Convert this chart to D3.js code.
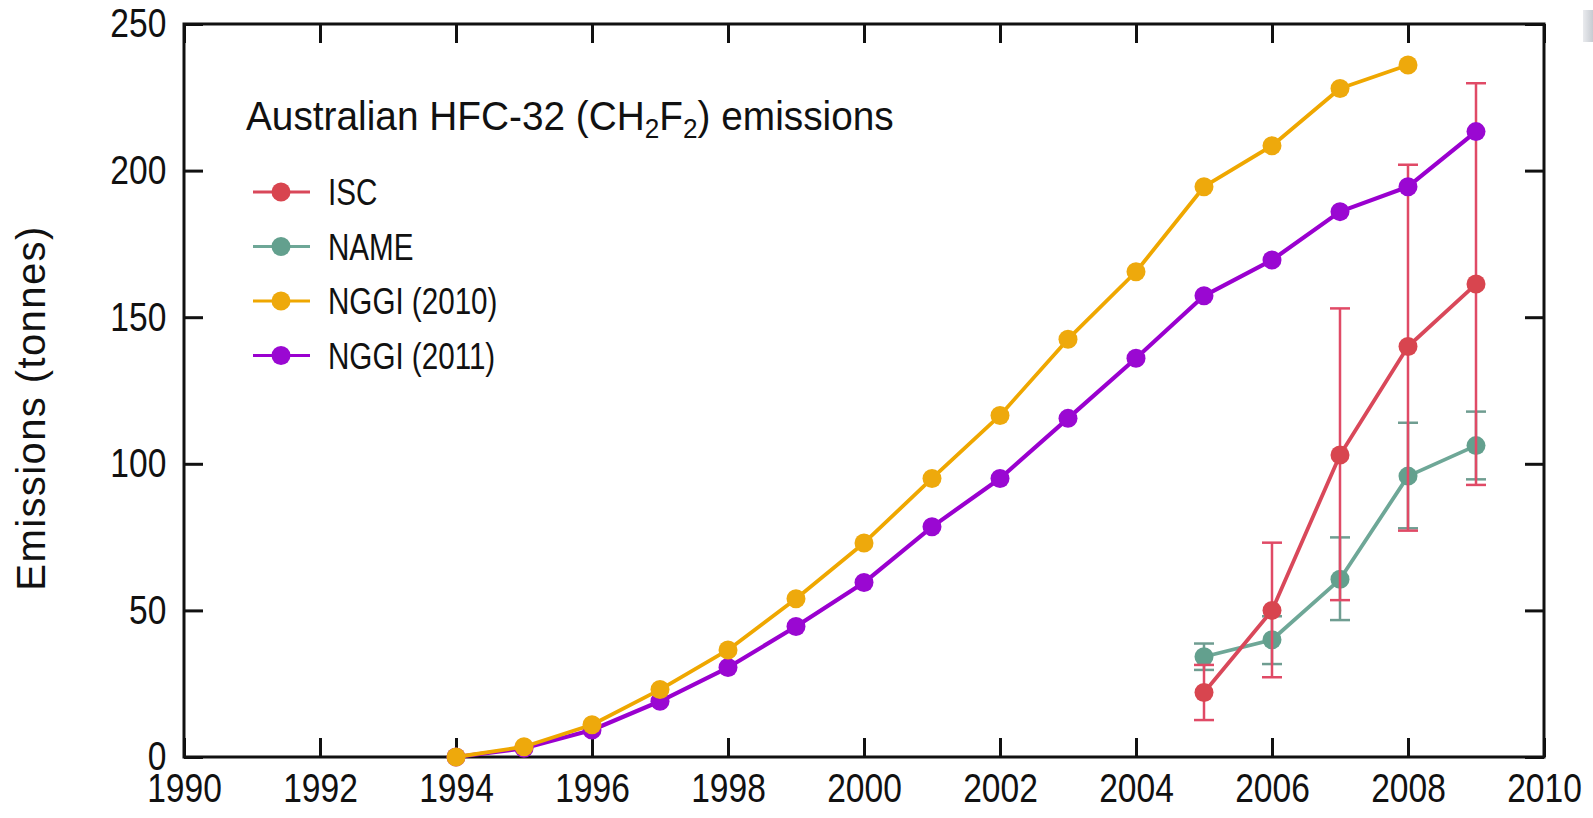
<!DOCTYPE html>
<html>
<head>
<meta charset="utf-8">
<script src="https://cdn.jsdelivr.net/npm/d3@7"></script>
<style>
  html, body { margin: 0; padding: 0; background: #ffffff; }
  svg { display: block; }
  text { font-family: "Liberation Sans", Arial, Helvetica, sans-serif; fill: #111; }
</style>
</head>
<body>
<svg id="chart" width="1593" height="818"></svg>
<script>
// Tick values
const xTicks = [1990, 1992, 1994, 1996, 1998, 2000, 2002, 2004, 2006, 2008, 2010];
const yTicks = [0, 50, 100, 150, 200, 250];

// NGGI (2010) inventory
const nggi2010Years  = [1994, 1995, 1996, 1997, 1998, 1999, 2000, 2001, 2002, 2003, 2004, 2005, 2006, 2007, 2008];
const nggi2010Values = [0, 3.5, 11, 23, 36.5, 54, 73, 95, 116.5, 142.5, 165.5, 194.5, 208.5, 228, 236];

// NGGI (2011) inventory
const nggi2011Years  = [1994, 1995, 1996, 1997, 1998, 1999, 2000, 2001, 2002, 2003, 2004, 2005, 2006, 2007, 2008, 2009];
const nggi2011Values = [0, 3, 9.2, 19, 30.5, 44.5, 59.5, 78.5, 95, 115.5, 136, 157.3, 169.5, 186, 194.5, 213.3];

// ISC estimates with uncertainty ranges
const iscYears  = [2005, 2006, 2007, 2008, 2009];
const iscValues = [22, 50, 103, 140, 161.3];
const iscLower  = [12.6, 27.2, 53.5, 77.2, 92.8];
const iscUpper  = [31.4, 73.1, 153, 202, 229.8];

// NAME estimates with uncertainty ranges
const nameYears  = [2005, 2006, 2007, 2008, 2009];
const nameValues = [34.2, 40, 60.6, 95.8, 106.2];
const nameLower  = [29.7, 31.7, 46.7, 78, 94.7];
const nameUpper  = [38.7, 48, 74.9, 114, 117.8];

const legendLabels = ["ISC", "NAME", "NGGI (2010)", "NGGI (2011)"];

const colors = {
  isc:  { line: "#d9485a", dot: "#d8454f", bar: "#e04a66" },
  name: { line: "#6ea797", dot: "#63a08e", bar: "#6f9d91" },
  n10:  { line: "#efa700", dot: "#eea90c" },
  n11:  { line: "#9a00cf", dot: "#9a08d2" }
};

const svg = d3.select("#chart");
const plot = { left: 184, right: 1544, top: 24, bottom: 757 };

const x = d3.scaleLinear().domain([1990, 2010]).range([plot.left, plot.right]);
const y = d3.scaleLinear().domain([0, 250]).range([plot.bottom, plot.top]);

// narrow letterforms for tick and legend labels
const tickCondense = 0.84;
const legendCondense = 0.8;

// Axes: inward ticks on all four sides
const axB = svg.append("g").attr("transform", `translate(0,${plot.bottom})`)
  .call(d3.axisBottom(x).tickValues(xTicks).tickFormat(d3.format("d"))
    .tickSizeInner(-19).tickSizeOuter(0).tickPadding(17));
const axT = svg.append("g").attr("transform", `translate(0,${plot.top})`)
  .call(d3.axisTop(x).tickValues(xTicks).tickFormat("")
    .tickSizeInner(-19).tickSizeOuter(0));
const axL = svg.append("g").attr("transform", `translate(${plot.left},0)`)
  .call(d3.axisLeft(y).tickValues(yTicks)
    .tickSizeInner(-19).tickSizeOuter(0).tickPadding(21));
const axR = svg.append("g").attr("transform", `translate(${plot.right},0)`)
  .call(d3.axisRight(y).tickValues(yTicks).tickFormat("")
    .tickSizeInner(-19).tickSizeOuter(0));

[axB, axT, axL, axR].forEach(g => {
  g.select(".domain").remove();
  g.selectAll(".tick line").attr("stroke", "#111").attr("stroke-width", 3);
  g.selectAll(".tick text")
    .attr("font-size", 40)
    .attr("fill", "#111")
    .style("font-family", '"Liberation Sans", Arial, sans-serif');
});
axB.selectAll(".tick text").attr("transform", `scale(${tickCondense},1)`);
axL.selectAll(".tick text").attr("transform", `scale(${tickCondense},1)`);

// Plot frame
svg.append("rect")
  .attr("x", plot.left).attr("y", plot.top)
  .attr("width", plot.right - plot.left).attr("height", plot.bottom - plot.top)
  .attr("fill", "none").attr("stroke", "#111").attr("stroke-width", 3);

// Y axis title
svg.append("text")
  .attr("transform", `translate(45,408) rotate(-90)`)
  .attr("text-anchor", "middle")
  .attr("font-size", 40)
  .attr("letter-spacing", "1.4px")
  .text("Emissions (tonnes)");

// Chart title with subscripts
const title = svg.append("g").attr("transform", "translate(246,130) scale(0.97,1)")
  .append("text").attr("font-size", 40);
title.append("tspan").text("Australian HFC-32 (CH");
title.append("tspan").attr("font-size", 27).attr("dy", 8).text("2");
title.append("tspan").attr("dy", -8).text("F");
title.append("tspan").attr("font-size", 27).attr("dy", 8).text("2");
title.append("tspan").attr("dy", -8).text(") emissions");

const zip = (xs, vs) => xs.map((yr, i) => ({ year: yr, value: vs[i] }));
const line = d3.line().x(d => x(d.year)).y(d => y(d.value));

function drawErrorBars(years, lo, hi, color) {
  const rows = years.map((yr, i) => ({ year: yr, lo: lo[i], hi: hi[i] }));
  const g = svg.append("g").attr("stroke", color).attr("stroke-width", 2.5).attr("fill", "none");
  g.selectAll("line.v").data(rows).join("line").attr("class", "v")
    .attr("x1", d => x(d.year)).attr("x2", d => x(d.year))
    .attr("y1", d => y(d.lo)).attr("y2", d => y(d.hi));
  g.selectAll("line.hi").data(rows).join("line").attr("class", "hi")
    .attr("x1", d => x(d.year) - 10).attr("x2", d => x(d.year) + 10)
    .attr("y1", d => y(d.hi)).attr("y2", d => y(d.hi));
  g.selectAll("line.lo").data(rows).join("line").attr("class", "lo")
    .attr("x1", d => x(d.year) - 10).attr("x2", d => x(d.year) + 10)
    .attr("y1", d => y(d.lo)).attr("y2", d => y(d.lo));
}

function drawSeries(data, c, width) {
  svg.append("path").datum(data)
    .attr("d", line).attr("fill", "none")
    .attr("stroke", c.line).attr("stroke-width", width)
    .attr("stroke-linejoin", "round");
  svg.append("g").selectAll("circle").data(data).join("circle")
    .attr("cx", d => x(d.year)).attr("cy", d => y(d.value))
    .attr("r", 9.5).attr("fill", c.dot);
}

// NAME
drawErrorBars(nameYears, nameLower, nameUpper, colors.name.bar);
drawSeries(zip(nameYears, nameValues), colors.name, 3.8);
// ISC
drawErrorBars(iscYears, iscLower, iscUpper, colors.isc.bar);
drawSeries(zip(iscYears, iscValues), colors.isc, 3.8);
// Inventories
drawSeries(zip(nggi2011Years, nggi2011Values), colors.n11, 4.2);
drawSeries(zip(nggi2010Years, nggi2010Values), colors.n10, 3.8);

// Legend
const legendColors = [colors.isc, colors.name, colors.n10, colors.n11];
legendLabels.forEach((lab, i) => {
  const yy = 192 + i * 54.5;
  const c = legendColors[i];
  svg.append("line")
    .attr("x1", 253).attr("x2", 310).attr("y1", yy).attr("y2", yy)
    .attr("stroke", c.line).attr("stroke-width", 3.2);
  svg.append("circle").attr("cx", 281).attr("cy", yy).attr("r", 9.5).attr("fill", c.dot);
  svg.append("g").attr("transform", `translate(328,${yy}) scale(${legendCondense},1)`)
    .append("text").attr("dy", "0.36em").attr("font-size", 37).text(lab);
});

// faint grey smudge at the top-right edge
const smudge = svg.append("defs").append("linearGradient").attr("id", "smudge")
  .attr("x1", 0).attr("x2", 1).attr("y1", 0).attr("y2", 0);
smudge.append("stop").attr("offset", 0).attr("stop-color", "#e4e6ea");
smudge.append("stop").attr("offset", 1).attr("stop-color", "#b9bec6");
svg.append("rect").attr("x", 1583).attr("y", 10).attr("width", 10).attr("height", 32)
  .attr("fill", "url(#smudge)").attr("opacity", 0.8);
</script>
</body>
</html>
